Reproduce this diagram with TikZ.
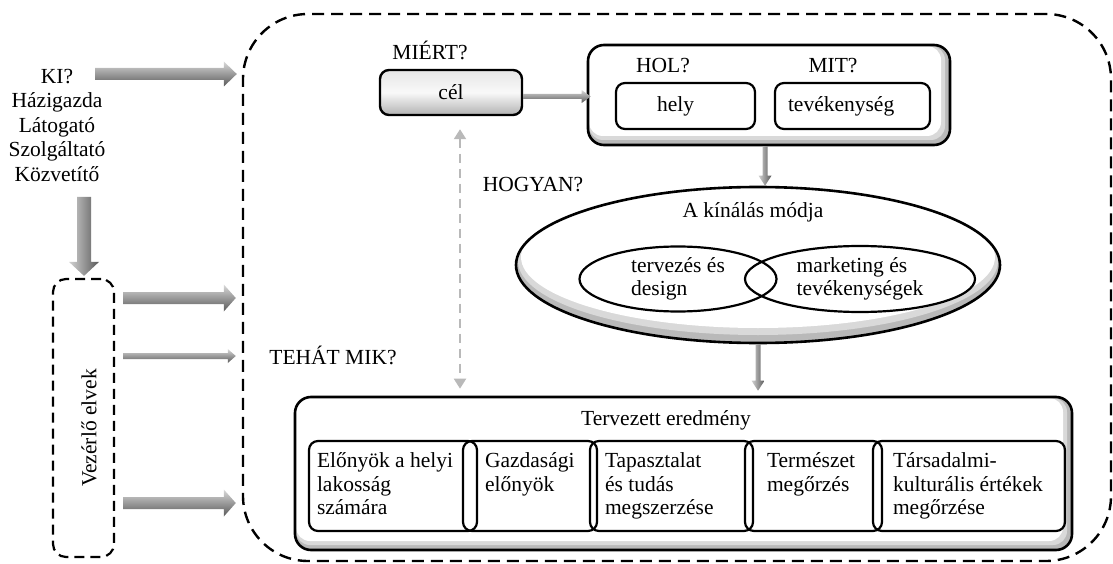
\documentclass[tikz,border=0pt]{standalone}
\usepackage{fontspec}
\setmainfont{Liberation Serif}
\usetikzlibrary{calc, arrows.meta, shapes.geometric}

\newcommand{\harrow}[5]{%
  \shade[top color=gray!30, bottom color=black!65] ($(#1)+(0,-#3)$) -- ($(#2)+(-#5,-#3)$) -- ($(#2)+(-#5,-#4)$) -- (#2) -- ($(#2)+(-#5,#4)$) -- ($(#2)+(-#5,#3)$) -- ($(#1)+(0,#3)$) -- cycle;}
\newcommand{\varrow}[5]{%
  \shade[left color=gray!35, right color=black!65] ($(#1)+(-#3,0)$) -- ($(#2)+(-#3,-#5)$) -- ($(#2)+(-#4,-#5)$) -- (#2) -- ($(#2)+(#4,-#5)$) -- ($(#2)+(#3,-#5)$) -- ($(#1)+(#3,0)$) -- cycle;}
\newcommand{\celltext}[2]{\parbox[c][66pt][t]{#1}{\raggedright #2}}

\begin{document}
\begin{tikzpicture}[x=1pt, y=-1pt, font=\fontsize{21.5}{23.5}\selectfont,
	outline/.style={draw, dash pattern=on 12pt off 7pt, line width=2.4pt, rounded corners=65pt, minimum width=868pt, minimum height=547pt, inner sep=0pt},
	guide/.style={draw, dash pattern=on 10pt off 6pt, line width=2.2pt, rounded corners=13pt, minimum width=61pt, minimum height=278pt, inner sep=0pt},
	box/.style={draw, line width=2.2pt, rounded corners=9pt, inner sep=0pt},
	button/.style={box, line width=2.4pt, top color=gray!20, bottom color=gray!60, middle color=gray!5, minimum width=142pt, minimum height=45pt},
	panel/.style={box, line width=2.6pt, rounded corners=16pt, fill=gray!55,
		path picture={
			\fill[gray!30, rounded corners=14pt] ([shift={(1pt,-1pt)}]path picture bounding box.north west) rectangle ([shift={(-5pt,5pt)}]path picture bounding box.south east);
			\fill[white, rounded corners=14pt] ([shift={(1pt,-1pt)}]path picture bounding box.north west) rectangle ([shift={(-9pt,9pt)}]path picture bounding box.south east);}},
	bowl/.style={draw, ellipse, line width=2.6pt, inner sep=0pt, minimum width=484pt, minimum height=156pt, fill=gray!55,
		path picture={
			\fill[gray!30] ([yshift=4pt]path picture bounding box.center) ellipse [x radius=240pt, y radius=74pt];
			\fill[white] ([yshift=8pt]path picture bounding box.center) ellipse [x radius=237pt, y radius=71pt];}},
	ring/.style={draw, ellipse, line width=2.2pt, inner sep=0pt, align=left},
	gain/.style={box, minimum height=90pt, minimum width=#1},
	link/.style={gray!55, dash pattern=on 9pt off 6pt, line width=2pt, {Triangle[length=10pt,width=12pt]}-{Triangle[length=10pt,width=12pt]}}]
	\useasboundingbox (0,0) rectangle (1113,564);
	
	\node[outline] (frame) at (677,287.5) {};
	\node[align=center, font=\fontsize{21.5}{24.5}\selectfont] (who) at (57,125) {KI?\\Házigazda\\Látogató\\Szolgáltató\\Közvetítő};
	\node[guide] (rules) at (83.5,418) {};
	\node[rotate=90] (rulestext) at (89,428) {Vezérlő elvek};
	
	\node (why) at (430,50) {MIÉRT?};
	\node[button] (cel) at (451,92.5) {cél};
	\node[panel, minimum width=362pt, minimum height=100pt] (where) at (769,95) {};
	\node (hol) at (663,66) {HOL?};
	\node (mit) at (833,66) {MIT?};
	\node[box, minimum width=139pt, minimum height=46pt, text width=57pt, inner xsep=41pt, align=left] (hely) at (685.5,106) {hely};
	\node[box, minimum width=155pt, minimum height=46pt, text width=129pt, inner xsep=13pt, align=left] (activity) at (852.5,106) {tevékenység};
	
	\node (how) at (533,185) {HOGYAN?};
	\node[bowl] (offer) at (758,265) {};
	\node (offertext) at (753,212) {A kínálás módja};
	\node[ring, minimum width=197pt, minimum height=65pt] (design) at (678,279) {tervezés és\\design};
	\node[ring, minimum width=230pt, minimum height=66pt] (marketing) at (860,279) {marketing és\\tevékenységek};
	
	\node (what) at (333,355) {TEHÁT MIK?};
	\node[panel, minimum width=777pt, minimum height=153pt] (result) at (683.5,473.5) {};
	\node (resulttext) at (666,420) {Tervezett eredmény};
	\node[gain=168pt] (locals) at (393,486) {\celltext{152pt}{Előnyök a helyi\\lakosság\\számára}};
	\node[gain=134pt] (economy) at (530,486) {\celltext{90pt}{Gazdasági\\előnyök}};
	\node[gain=163pt] (knowledge) at (671.5,486) {\celltext{133pt}{Tapasztalat\\és tudás\\megszerzése}};
	\node[gain=137pt] (nature) at (813.5,486) {\celltext{93pt}{Természet\\megőrzés}};
	\node[gain=192pt] (culture) at (969,486) {\celltext{152pt}{Társadalmi-\\kulturális értékek\\megőrzése}};
	
	% block arrows
	\coordinate (ki-out) at (95,74);
	\coordinate (ki-in) at ([xshift=-5pt]frame.west |- ki-out);
	\harrow{ki-out}{ki-in}{6}{12.5}{13}
	\coordinate (who-out) at (84,197);
	\coordinate (rules-in) at ([yshift=2pt]who-out |- rules.north);
	\varrow{who-out}{rules-in}{7}{15}{14}
	\foreach \y/\s/\h/\l [count=\i] in {298/6/13.5/12, 356/3/7/8, 503/6/13.5/12}{
		\coordinate (rs\i) at ([xshift=8pt]rules.east |- 0,\y);
		\coordinate (rt\i) at ([xshift=-6pt]frame.west |- 0,\y);
		\harrow{rs\i}{rt\i}{\s}{\h}{\l}
	}
	
	% thin arrows
	\coordinate (goal-out) at ([yshift=-4pt]cel.east);
	\coordinate (goal-in) at ([xshift=4pt]goal-out -| where.west);
	\harrow{goal-out}{goal-in}{2.5}{6.5}{9}
	\coordinate (where-out) at ([xshift=-4pt]where.south);
	\coordinate (offer-in) at (where-out |- offer.north);
	\varrow{where-out}{offer-in}{2.5}{6.5}{10}
	\coordinate (offer-out) at (offer.south);
	\coordinate (result-in) at ([yshift=5pt]offer-out |- result.north);
	\varrow{offer-out}{result-in}{2.5}{6.5}{10}
	
	\coordinate (link-top) at ([xshift=9pt,yshift=-13pt]cel.south);
	\coordinate (link-bot) at ([yshift=7pt]link-top |- result.north);
	\draw[link] (link-top) -- (link-bot);
\end{tikzpicture}
\end{document}
